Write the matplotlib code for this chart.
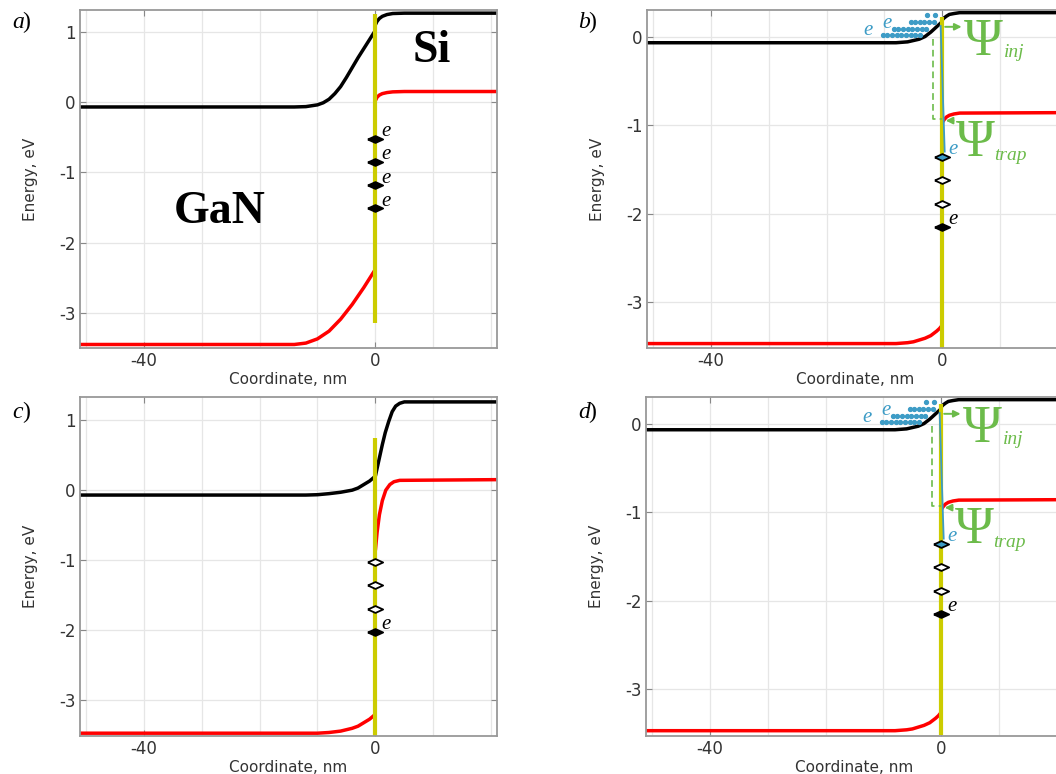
import matplotlib.pyplot as plt
from matplotlib.ticker import MultipleLocator

plt.rcParams['axes.unicode_minus'] = False

# ---- band edges, panel a ----
a_cb_lx = [-51, -14, -12, -10, -9, -8, -7, -6, -5, -4, -3, -2, -1, 0]
a_cb_ly = [-0.07, -0.07, -0.065, -0.04, -0.01, 0.04, 0.12, 0.22, 0.35, 0.49, 0.63, 0.76, 0.89, 1.02]
a_cb_rx = [0, 0.3, 0.7, 1.2, 2, 3, 5, 21]
a_cb_ry = [1.1, 1.15, 1.19, 1.22, 1.245, 1.26, 1.265, 1.265]
a_vb_lx = [-51, -14, -12, -10, -8, -6, -4, -2, -1, 0]
a_vb_ly = [-3.45, -3.45, -3.43, -3.37, -3.26, -3.09, -2.88, -2.64, -2.51, -2.38]
a_vb_rx = [0, 0.3, 0.7, 1.2, 2, 3, 5, 21]
a_vb_ry = [0.02, 0.07, 0.1, 0.12, 0.135, 0.145, 0.15, 0.15]
a_traps = [-0.52, -0.85, -1.18, -1.51]
a_trap_fill = ['k', 'k', 'k', 'k']
a_trap_e = [True, True, True, True]
a_wall = (1.25, -3.15)

# ---- panels b and d ----
b_cb_lx = [-51, -8, -6, -5, -4, -3, -2, -1.5, -1, -0.5, 0]
b_cb_ly = [-0.07, -0.07, -0.06, -0.045, -0.03, 0.0, 0.05, 0.08, 0.11, 0.14, 0.17]
b_cb_rx = [0, 0.3, 0.7, 1.2, 2, 3, 21]
b_cb_ry = [0.19, 0.21, 0.23, 0.25, 0.26, 0.27, 0.27]
b_vb_lx = [-51, -8, -6, -5, -4, -3, -2, -1, -0.5, 0]
b_vb_ly = [-3.47, -3.47, -3.46, -3.45, -3.43, -3.41, -3.38, -3.33, -3.3, -3.26]
b_vb_rx = [0, 0.3, 0.7, 1.2, 2, 3, 21]
b_vb_ry = [-0.97, -0.94, -0.91, -0.89, -0.875, -0.865, -0.86]
b_traps = [-1.36, -1.62, -1.89, -2.15]
b_trap_fill = ['#3d9cc6', 'w', 'w', 'k']
b_trap_e = [True, False, False, True]
b_wall = (0.22, -3.52)

# electrons in the GaN conduction band (rows of dots)
dot_row_y = [0.02, 0.09, 0.16, 0.24]
dot_row_x = [
    [-10.3, -9.5, -8.7, -7.9, -7.1, -6.3, -5.5, -4.7, -3.9],
    [-8.4, -7.6, -6.8, -6.0, -5.2, -4.4, -3.6, -2.9],
    [-5.5, -4.7, -3.9, -3.1, -2.3, -1.5],
    [-2.6, -1.2],
]

# ---- panel c ----
c_cb_lx = [-51, -12, -10, -8, -6, -4, -3, -2, -1, 0]
c_cb_ly = [-0.07, -0.07, -0.065, -0.05, -0.03, 0.0, 0.03, 0.08, 0.13, 0.2]
c_cb_rx = [0, 0.4, 0.8, 1.2, 1.7, 2.3, 2.9, 3.5, 4.2, 5, 21]
c_cb_ry = [0.2, 0.35, 0.5, 0.65, 0.82, 0.98, 1.12, 1.2, 1.24, 1.26, 1.26]
c_vb_lx = [-51, -10, -8, -6, -4, -3, -2, -1, 0]
c_vb_ly = [-3.47, -3.47, -3.46, -3.44, -3.4, -3.37, -3.32, -3.27, -3.2]
c_vb_rx = [0, 0.3, 0.7, 1.2, 1.8, 2.5, 3.2, 4.2, 21]
c_vb_ry = [-0.86, -0.6, -0.35, -0.15, 0.0, 0.08, 0.12, 0.14, 0.15]
c_traps = [-1.03, -1.36, -1.69, -2.02]
c_trap_fill = ['w', 'w', 'w', 'k']
c_trap_e = [False, False, False, True]
c_wall = (0.75, -3.52)

GREEN = '#6cbb4a'
BLUE = '#3d9cc6'
YEL = '#cccc00'
trap_marker = [(-1, 0), (0, 0.45), (1, 0), (0, -0.45), (-1, 0)]

fig = plt.figure(figsize=(10.56, 7.74), dpi=100)
W, H = 1056, 774


def make_ax(left, top, bottom, ylim):
    ax = fig.add_axes([left / W, 1 - bottom / H, 417 / W, (bottom - top) / H])
    ax.set_xlim(-51, 21)
    ax.set_ylim(*ylim)
    ax.xaxis.set_major_locator(MultipleLocator(40))
    ax.xaxis.set_minor_locator(MultipleLocator(10))
    ax.yaxis.set_major_locator(MultipleLocator(1))
    ax.grid(True, which='both', color='#e6e6e6', lw=0.9)
    ax.set_axisbelow(True)
    for s in ax.spines.values():
        s.set_color('#999999')
        s.set_linewidth(1.3)
    ax.tick_params(which='both', direction='in', top=True, right=True,
                   colors='#888888', labelcolor='#333333', labelsize=12, pad=3)
    ax.tick_params(which='minor', length=0)
    ax.tick_params(which='major', length=4)
    ax.set_xlabel('Coordinate, nm', fontsize=11, color='#333333', labelpad=1)
    ax.set_ylabel('Energy, eV', fontsize=11, color='#333333')
    ax.yaxis.set_label_coords(-0.1, 0.5)
    return ax


def bands(ax, cbl, cbr, vbl, vbr, wall, traps, fills, elab, ecol):
    ax.plot(cbl[0], cbl[1], color='k', lw=2.5, solid_capstyle='butt')
    ax.plot(cbr[0], cbr[1], color='k', lw=2.5, solid_capstyle='butt')
    ax.plot(vbl[0], vbl[1], color='red', lw=2.5, solid_capstyle='butt')
    ax.plot(vbr[0], vbr[1], color='red', lw=2.5, solid_capstyle='butt')
    ax.plot([0, 0], wall, color=YEL, lw=3, solid_capstyle='butt')
    for y, f, e, c in zip(traps, fills, elab, ecol):
        ax.plot([0], [y], marker=trap_marker, ms=11, mfc=f, mec='k', mew=1.3)
        if e:
            ax.annotate('e', xy=(0, y), xytext=(4, 5), textcoords='offset points',
                        fontsize=15, style='italic', color=c, family='Liberation Serif',
                        va='center', ha='left')


def psi_parts(ax):
    # electron cloud
    for y, xs in zip(dot_row_y, dot_row_x):
        ax.plot(xs, [y] * len(xs), ls='none', marker='o', ms=2.8, color=BLUE)
    ax.text(-13.6, -0.04, 'e', fontsize=15, style='italic', color=BLUE,
            family='Liberation Serif', va='bottom')
    ax.text(-10.4, 0.04, 'e', fontsize=15, style='italic', color=BLUE,
            family='Liberation Serif', va='bottom')
    # wavefunction sketch
    ax.plot([-1.7, -1.7, 0], [-0.03, -0.93, -0.93], color=GREEN, lw=1.2, ls=(0, (4, 2.5)))
    ax.plot([-0.3, 0.4], [0.12, -1.3], color=BLUE, lw=1.3)
    ax.annotate('', xy=(3.8, 0.11), xytext=(0, 0.11),
                arrowprops=dict(arrowstyle='-|>', color=GREEN, lw=1.4, mutation_scale=10))
    ax.annotate('', xy=(0.1, -0.95), xytext=(2.4, -0.95),
                arrowprops=dict(arrowstyle='-|>', color=GREEN, lw=1.4, mutation_scale=10))
    ax.text(7.0, -0.06, '\u03a8', fontsize=38, color=GREEN, family='Liberation Serif',
            ha='center', va='center')
    ax.text(10.6, -0.18, 'inj', fontsize=14, style='italic', color=GREEN,
            family='Liberation Serif', ha='left', va='center')
    ax.text(5.7, -1.2, '\u03a8', fontsize=38, color=GREEN, family='Liberation Serif',
            ha='center', va='center')
    ax.text(9.0, -1.34, 'trap', fontsize=14, style='italic', color=GREEN,
            family='Liberation Serif', ha='left', va='center')


# a)
ax = make_ax(80, 10, 348, (-3.5, 1.31))
bands(ax, (a_cb_lx, a_cb_ly), (a_cb_rx, a_cb_ry), (a_vb_lx, a_vb_ly), (a_vb_rx, a_vb_ry),
      a_wall, a_traps, a_trap_fill, a_trap_e, ['k'] * 4)
ax.text(-26.8, -1.57, 'GaN', fontsize=33, fontweight='bold', family='Liberation Serif',
        ha='center', va='center')
ax.text(9.8, 0.73, 'Si', fontsize=33, fontweight='bold', family='Liberation Serif',
        ha='center', va='center')

# b)
ax = make_ax(647, 10, 348, (-3.52, 0.3))
bands(ax, (b_cb_lx, b_cb_ly), (b_cb_rx, b_cb_ry), (b_vb_lx, b_vb_ly), (b_vb_rx, b_vb_ry),
      b_wall, b_traps, b_trap_fill, b_trap_e, [BLUE, 'k', 'k', 'k'])
psi_parts(ax)

# c)
ax = make_ax(80, 397, 736, (-3.51, 1.33))
bands(ax, (c_cb_lx, c_cb_ly), (c_cb_rx, c_cb_ry), (c_vb_lx, c_vb_ly), (c_vb_rx, c_vb_ry),
      c_wall, c_traps, c_trap_fill, c_trap_e, ['k'] * 4)

# d)
ax = make_ax(646, 397, 736, (-3.53, 0.3))
bands(ax, (b_cb_lx, b_cb_ly), (b_cb_rx, b_cb_ry), (b_vb_lx, b_vb_ly), (b_vb_rx, b_vb_ry),
      b_wall, b_traps, b_trap_fill, b_trap_e, [BLUE, 'k', 'k', 'k'])
psi_parts(ax)

for lab, x, y in [('a', 12, 22), ('b', 578, 22), ('c', 12, 412), ('d', 578, 412)]:
    fig.text(x / W, 1 - y / H, lab, fontsize=17, style='italic', family='Liberation Serif',
             va='center', ha='left')
    fig.text((x + 10) / W, 1 - y / H, ')', fontsize=17, family='Liberation Serif',
             va='center', ha='left')

fig.savefig('out.png', dpi=100)
